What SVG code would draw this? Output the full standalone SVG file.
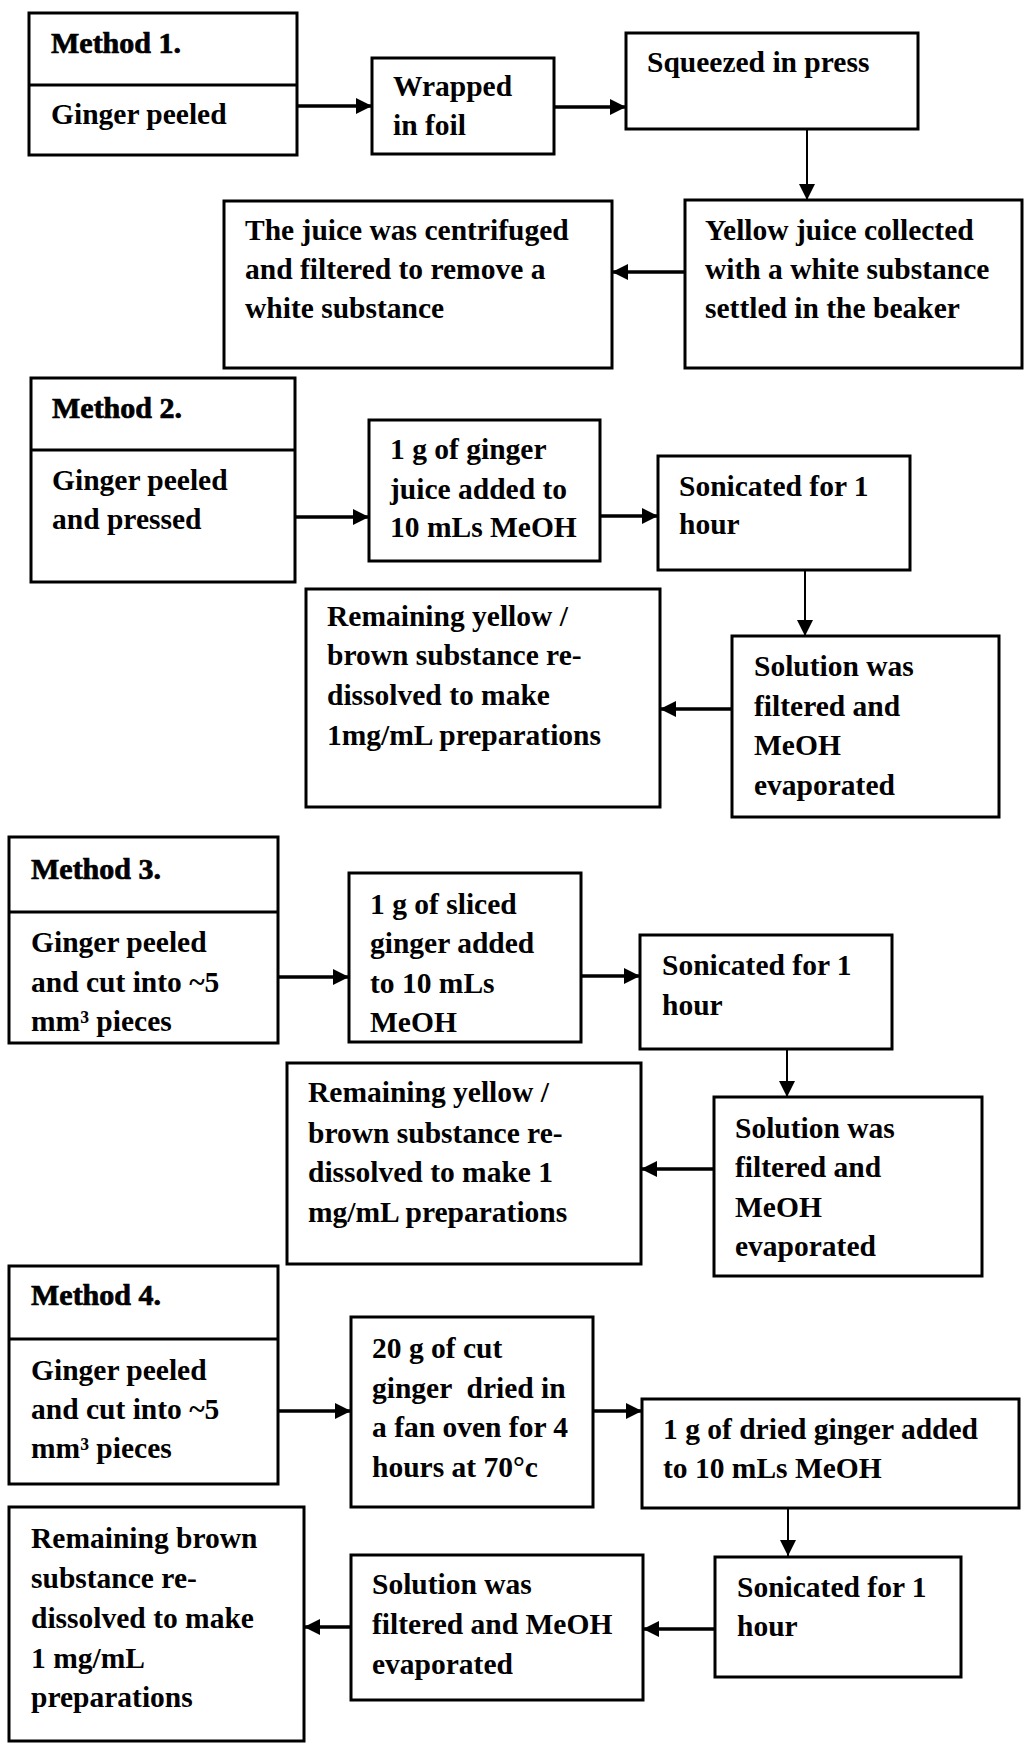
<svg xmlns="http://www.w3.org/2000/svg" width="1024" height="1743" viewBox="0 0 1024 1743">
<style>
.bx{fill:#fff;stroke:#000;stroke-width:3}
.dv{stroke:#000;stroke-width:3}
.t{font-family:"Liberation Serif","Times New Roman",serif;font-weight:bold;font-size:29.5px;fill:#000}
.h{font-family:"Liberation Serif","Times New Roman",serif;font-weight:bold;font-size:30px;fill:#000;stroke:#000;stroke-width:0.7}
.ah{stroke:#000;stroke-width:3.5;fill:none}
.av{stroke:#000;stroke-width:2;fill:none}
</style>
<defs>
<marker id="arr" markerUnits="userSpaceOnUse" markerWidth="17" markerHeight="17" refX="16" refY="8" orient="auto">
<path d="M0,0 L16,8 L0,16 z" fill="#000"/>
</marker>
<clipPath id="clip3"><rect x="0" y="830" width="300" height="208"/></clipPath>
</defs>
<rect width="1024" height="1743" fill="#fff"/>

<g id="connectors">
<line class="ah" x1="297" y1="106" x2="372" y2="106" marker-end="url(#arr)"/>
<line class="ah" x1="554" y1="107" x2="626" y2="107" marker-end="url(#arr)"/>
<line class="av" x1="807" y1="129" x2="807" y2="200" marker-end="url(#arr)"/>
<line class="ah" x1="685" y1="272" x2="612" y2="272" marker-end="url(#arr)"/>

<line class="ah" x1="295" y1="517" x2="369" y2="517" marker-end="url(#arr)"/>
<line class="ah" x1="600" y1="516" x2="658" y2="516" marker-end="url(#arr)"/>
<line class="av" x1="805" y1="570" x2="805" y2="636" marker-end="url(#arr)"/>
<line class="ah" x1="732" y1="709" x2="660" y2="709" marker-end="url(#arr)"/>

<line class="ah" x1="278" y1="977" x2="349" y2="977" marker-end="url(#arr)"/>
<line class="ah" x1="581" y1="976" x2="640" y2="976" marker-end="url(#arr)"/>
<line class="av" x1="787" y1="1049" x2="787" y2="1097" marker-end="url(#arr)"/>
<line class="ah" x1="714" y1="1169" x2="641" y2="1169" marker-end="url(#arr)"/>

<line class="ah" x1="278" y1="1411" x2="351" y2="1411" marker-end="url(#arr)"/>
<line class="ah" x1="593" y1="1411" x2="642" y2="1411" marker-end="url(#arr)"/>
<line class="av" x1="788" y1="1508" x2="788" y2="1556" marker-end="url(#arr)"/>
<line class="ah" x1="715" y1="1629" x2="643" y2="1629" marker-end="url(#arr)"/>
<line class="ah" x1="351" y1="1627" x2="304" y2="1627" marker-end="url(#arr)"/>
</g>

<!-- Method 1 -->
<g id="m1-start">
<rect class="bx" x="29" y="13" width="268" height="142"/>
<line class="dv" x1="29" y1="85" x2="297" y2="85"/>
<text class="h" x="51" y="53">Method 1.</text>
<text class="t" x="51" y="124">Ginger peeled</text>
</g>
<g id="m1-wrap">
<rect class="bx" x="372" y="58" width="182" height="96"/>
<text class="t" x="393" y="96">Wrapped</text>
<text class="t" x="393" y="135">in foil</text>
</g>
<g id="m1-squeeze">
<rect class="bx" x="626" y="33" width="292" height="96"/>
<text class="t" x="647" y="72">Squeezed in press</text>
</g>
<g id="m1-yellow">
<rect class="bx" x="685" y="200" width="337" height="168"/>
<text class="t" x="705" y="240">Yellow juice collected</text>
<text class="t" x="705" y="279">with a white substance</text>
<text class="t" x="705" y="318">settled in the beaker</text>
</g>
<g id="m1-centrifuge">
<rect class="bx" x="224" y="201" width="388" height="167"/>
<text class="t" x="245" y="240">The juice was centrifuged</text>
<text class="t" x="245" y="279">and filtered to remove a</text>
<text class="t" x="245" y="318">white substance</text>
</g>

<!-- Method 2 -->
<g id="m2-start">
<rect class="bx" x="31" y="378" width="264" height="204"/>
<line class="dv" x1="31" y1="450" x2="295" y2="450"/>
<text class="h" x="52" y="418">Method 2.</text>
<text class="t" x="52" y="490">Ginger peeled</text>
<text class="t" x="52" y="529">and pressed</text>
</g>
<g id="m2-juice">
<rect class="bx" x="369" y="420" width="231" height="141"/>
<text class="t" x="390" y="459">1 g of ginger</text>
<text class="t" x="390" y="499">juice added to</text>
<text class="t" x="390" y="537">10 mLs MeOH</text>
</g>
<g id="m2-sonic">
<rect class="bx" x="658" y="456" width="252" height="114"/>
<text class="t" x="679" y="496">Sonicated for 1</text>
<text class="t" x="679" y="534">hour</text>
</g>
<g id="m2-solution">
<rect class="bx" x="732" y="636" width="267" height="181"/>
<text class="t" x="754" y="676">Solution was</text>
<text class="t" x="754" y="716">filtered and</text>
<text class="t" x="754" y="755">MeOH</text>
<text class="t" x="754" y="795">evaporated</text>
</g>
<g id="m2-remaining">
<rect class="bx" x="306" y="589" width="354" height="218"/>
<text class="t" x="327" y="626">Remaining yellow /</text>
<text class="t" x="327" y="665">brown substance re-</text>
<text class="t" x="327" y="705">dissolved to make</text>
<text class="t" x="327" y="745">1mg/mL preparations</text>
</g>

<!-- Method 3 -->
<g id="m3-start">
<rect class="bx" x="9" y="837" width="269" height="206"/>
<line class="dv" x1="9" y1="912" x2="278" y2="912"/>
<text class="h" x="31" y="879">Method 3.</text>
<text class="t" x="31" y="952">Ginger peeled</text>
<text class="t" x="31" y="992">and cut into ~5</text>
<text class="t" x="31" y="1031" clip-path="url(#clip3)">mm³ pieces</text>
</g>
<g id="m3-sliced">
<rect class="bx" x="349" y="873" width="232" height="169"/>
<text class="t" x="370" y="914">1 g of sliced</text>
<text class="t" x="370" y="953">ginger added</text>
<text class="t" x="370" y="993">to 10 mLs</text>
<text class="t" x="370" y="1032">MeOH</text>
</g>
<g id="m3-sonic">
<rect class="bx" x="640" y="935" width="252" height="114"/>
<text class="t" x="662" y="975">Sonicated for 1</text>
<text class="t" x="662" y="1015">hour</text>
</g>
<g id="m3-solution">
<rect class="bx" x="714" y="1097" width="268" height="179"/>
<text class="t" x="735" y="1138">Solution was</text>
<text class="t" x="735" y="1177">filtered and</text>
<text class="t" x="735" y="1217">MeOH</text>
<text class="t" x="735" y="1256">evaporated</text>
</g>
<g id="m3-remaining">
<rect class="bx" x="287" y="1063" width="354" height="201"/>
<text class="t" x="308" y="1102">Remaining yellow /</text>
<text class="t" x="308" y="1143">brown substance re-</text>
<text class="t" x="308" y="1182">dissolved to make 1</text>
<text class="t" x="308" y="1222">mg/mL preparations</text>
</g>

<!-- Method 4 -->
<g id="m4-start">
<rect class="bx" x="9" y="1266" width="269" height="218"/>
<line class="dv" x1="9" y1="1339" x2="278" y2="1339"/>
<text class="h" x="31" y="1305">Method 4.</text>
<text class="t" x="31" y="1380">Ginger peeled</text>
<text class="t" x="31" y="1419">and cut into ~5</text>
<text class="t" x="31" y="1458">mm³ pieces</text>
</g>
<g id="m4-dry">
<rect class="bx" x="351" y="1317" width="242" height="190"/>
<text class="t" x="372" y="1358">20 g of cut</text>
<text class="t" x="372" y="1398" xml:space="preserve">ginger  dried in</text>
<text class="t" x="372" y="1437">a fan oven for 4</text>
<text class="t" x="372" y="1477">hours at 70°c</text>
</g>
<g id="m4-add">
<rect class="bx" x="642" y="1399" width="377" height="109"/>
<text class="t" x="663" y="1439">1 g of dried ginger added</text>
<text class="t" x="663" y="1478">to 10 mLs MeOH</text>
</g>
<g id="m4-sonic">
<rect class="bx" x="715" y="1557" width="246" height="120"/>
<text class="t" x="737" y="1597">Sonicated for 1</text>
<text class="t" x="737" y="1636">hour</text>
</g>
<g id="m4-solution">
<rect class="bx" x="351" y="1555" width="292" height="145"/>
<text class="t" x="372" y="1594">Solution was</text>
<text class="t" x="372" y="1634">filtered and MeOH</text>
<text class="t" x="372" y="1674">evaporated</text>
</g>
<g id="m4-remaining">
<rect class="bx" x="9" y="1507" width="295" height="234"/>
<text class="t" x="31" y="1548">Remaining brown</text>
<text class="t" x="31" y="1588">substance re-</text>
<text class="t" x="31" y="1628">dissolved to make</text>
<text class="t" x="31" y="1668">1 mg/mL</text>
<text class="t" x="31" y="1707">preparations</text>
</g>
</svg>
